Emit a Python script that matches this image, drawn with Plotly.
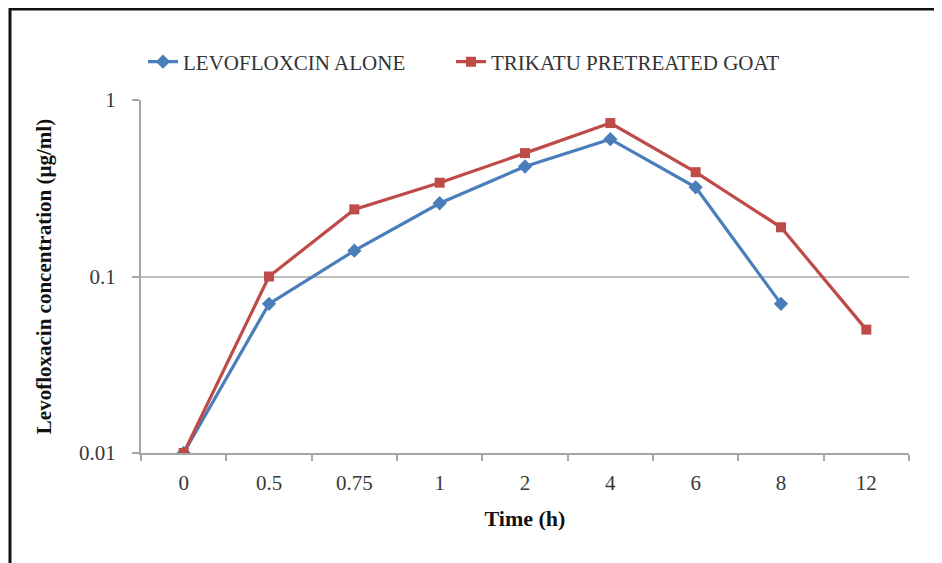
import plotly.graph_objects as go

times = ["0", "0.5", "0.75", "1", "2", "4", "6", "8", "12"]
levo_alone = [0.01, 0.07, 0.14, 0.26, 0.42, 0.60, 0.32, 0.07, None]
trikatu = [0.01, 0.10, 0.24, 0.34, 0.50, 0.74, 0.39, 0.19, 0.05]
y_ticks = [0.01, 0.1, 1]
y_tick_text = ["0.01", "0.1", "1"]

BLUE = "#4A7EBB"
RED = "#BE4B48"
SERIF = "Liberation Serif, Times New Roman, serif"

fig = go.Figure()
fig.add_trace(go.Scatter(
    x=times, y=levo_alone, name="LEVOFLOXCIN ALONE", mode="lines+markers",
    line=dict(color=BLUE, width=3.2),
    marker=dict(symbol="diamond", size=11, color=BLUE),
    legend="legend",
))
fig.add_trace(go.Scatter(
    x=times, y=trikatu, name="TRIKATU PRETREATED GOAT", mode="lines+markers",
    line=dict(color=RED, width=3.2),
    marker=dict(symbol="square", size=10, color=RED),
    legend="legend2",
))

# page is offset by the 8px body margin
OFF = 8
PW, PH = 942, 563
W, H = PW - OFF, PH - OFF
# target plot area in page coordinates: x 141..909, y 100..453
L, R, T, B = 141 - OFF, PW - 909, 100 - OFF, PH - 453
pw, ph = W - L - R, H - T - B

def px(xpage):
    return (xpage - OFF - L) / pw

def py(ypage):
    return (T + ph - (ypage - OFF)) / ph

legend_font = dict(family=SERIF, size=21, color="#333333")

fig.update_layout(
    width=W, height=H,
    margin=dict(l=L, r=R, t=T, b=B),
    paper_bgcolor="white", plot_bgcolor="white",
    font=dict(family=SERIF, size=20, color="#333333"),
    showlegend=True,
    legend=dict(
        orientation="h", x=px(143), y=py(62), xanchor="left", yanchor="middle",
        font=legend_font, bgcolor="rgba(0,0,0,0)",
    ),
    legend2=dict(
        orientation="h", x=px(451), y=py(62), xanchor="left", yanchor="middle",
        font=legend_font, bgcolor="rgba(0,0,0,0)",
    ),
    xaxis=dict(
        type="category", range=[-0.5, 8.5],
        showline=True, linecolor="#A6A6A6", linewidth=2,
        ticks="outside", tickson="boundaries", ticklen=6, tickcolor="#A6A6A6", tickwidth=1.5,
        showgrid=False, zeroline=False,
        tickfont=dict(family=SERIF, size=21, color="#383838"),
        ticklabelstandoff=10,
        title=dict(text="<b>Time (h)</b>", font=dict(family=SERIF, size=22, color="#111111"), standoff=16),
    ),
    yaxis=dict(
        type="log", range=[-2, 0],
        tickvals=y_ticks, ticktext=y_tick_text,
        showline=True, linecolor="#A6A6A6", linewidth=2,
        ticks="outside", ticklen=7, tickcolor="#A6A6A6", tickwidth=1.5,
        showgrid=True, gridcolor="#BFBFBF", gridwidth=1.5,
        zeroline=False,
        tickfont=dict(family=SERIF, size=21, color="#383838"),
        ticklabelstandoff=12,
        title=dict(text="<b>Levofloxacin concentration (µg/ml)</b>", font=dict(family=SERIF, size=21, color="#111111"), standoff=22),
    ),
    shapes=[dict(
        type="rect", xref="paper", yref="paper",
        x0=px(10), x1=px(PW + 30), y0=py(PH + 30), y1=py(9),
        line=dict(color="#111111", width=3), fillcolor="rgba(0,0,0,0)", layer="above",
    )],
)

fig.write_html("out.html")
